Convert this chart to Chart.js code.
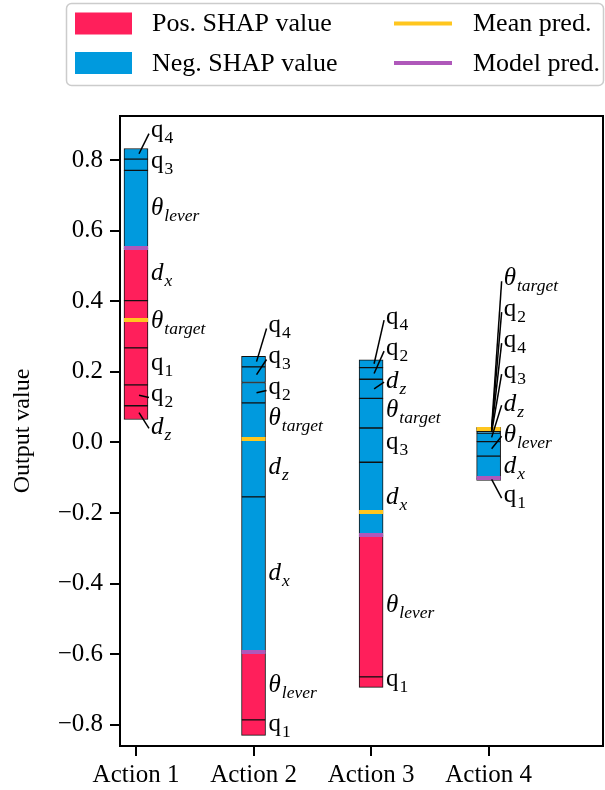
<!DOCTYPE html>
<html>
<head>
<meta charset="utf-8">
<script src="https://cdn.jsdelivr.net/npm/chart.js@4"></script>
<style>
  html, body { margin: 0; padding: 0; background: #fff; }
</style>
</head>
<body>
<canvas id="myChart" width="605" height="790"></canvas>
<script>
// Categories and tick labels
const actions = ['Action 1', 'Action 2', 'Action 3', 'Action 4'];
const yTicks = [-0.8, -0.6, -0.4, -0.2, 0.0, 0.2, 0.4, 0.6, 0.8];
const features = ['q1', 'q2', 'q3', 'q4', 'dx', 'dz', 'thetaLever', 'thetaTarget'];

// Mean prediction per action
const meanPred = [0.348, 0.009, -0.197, 0.037];

// SHAP values per feature, one entry per action
const shapQ1 = [0.105, 0.044, 0.030, 0.006];
const shapQ2 = [0.059, -0.058, -0.033, -0.004];
const shapQ3 = [-0.032, -0.044, -0.097, -0.005];
const shapQ4 = [-0.030, -0.030, -0.022, -0.0045];
const shapDx = [0.148, -0.441, -0.207, -0.063];
const shapDz = [0.039, -0.161, -0.054, -0.024];
const shapThetaLever = [-0.221, 0.191, 0.401, -0.041];
const shapThetaTarget = [0.134, -0.105, -0.084, -0.003];

const shapByFeature = {
    q1: shapQ1, q2: shapQ2, q3: shapQ3, q4: shapQ4,
    dx: shapDx, dz: shapDz, thetaLever: shapThetaLever, thetaTarget: shapThetaTarget
};

const POS_COLOR = '#FF1F5B';
const NEG_COLOR = '#009ADE';
const MEAN_COLOR = '#FFC61E';
const MODEL_COLOR = '#AF58BA';
const SERIF = '"Liberation Serif", "Times New Roman", serif';

// label text: main glyph, subscript, italic?
const labelParts = {
    q1: ['q', '1', false], q2: ['q', '2', false], q3: ['q', '3', false], q4: ['q', '4', false],
    dx: ['d', 'x', true], dz: ['d', 'z', true],
    thetaLever: ['\u03b8', 'lever', true], thetaTarget: ['\u03b8', 'target', true]
};

// Stack the segments: positives below the model prediction, negatives above,
// biggest magnitude closest to the model prediction line
function computeSegments(i) {
    const vals = features.map(f => ({ key: f, val: shapByFeature[f][i] }));
    const model = meanPred[i] + vals.reduce((s, v) => s + v.val, 0);
    const segs = {};
    let cur = model;
    vals.filter(v => v.val > 0).sort((a, b) => b.val - a.val).forEach(v => {
        segs[v.key] = { key: v.key, lo: cur - v.val, hi: cur, val: v.val };
        cur -= v.val;
    });
    cur = model;
    vals.filter(v => v.val <= 0).sort((a, b) => a.val - b.val).forEach(v => {
        segs[v.key] = { key: v.key, lo: cur, hi: cur - v.val, val: v.val };
        cur -= v.val;
    });
    return { model, segs };
}

const stacked = actions.map((a, i) => computeSegments(i));
const modelPred = stacked.map(s => s.model);

const datasets = features.map(f => ({
    label: f,
    data: actions.map((a, i) => ({ x: i, y: [stacked[i].segs[f].lo, stacked[i].segs[f].hi] })),
    backgroundColor: actions.map((a, i) => shapByFeature[f][i] > 0 ? POS_COLOR : NEG_COLOR),
    borderColor: '#111',
    borderWidth: 1,
    borderSkipped: false,
    barThickness: 24,
    grouped: false
}));

function drawLabel(ctx, key, x, y) {
    const [main, sub, italic] = labelParts[key];
    const mainFont = (italic ? 'italic ' : '') + '25px ' + SERIF;
    const subFont = (italic ? 'italic ' : '') + '17.5px ' + SERIF;
    const shift = 6;
    ctx.font = mainFont;
    const m = ctx.measureText(main);
    ctx.font = subFont;
    const s = ctx.measureText(sub);
    const top = Math.max(m.actualBoundingBoxAscent, s.actualBoundingBoxAscent - shift);
    const bottom = Math.max(m.actualBoundingBoxDescent, s.actualBoundingBoxDescent + shift);
    const base = y + (top - bottom) / 2;
    ctx.textAlign = 'left';
    ctx.textBaseline = 'alphabetic';
    ctx.fillStyle = '#000';
    ctx.font = mainFont;
    ctx.fillText(main, x, base);
    ctx.font = subFont;
    ctx.fillText(sub, x + m.width + 1, base + shift);
}

const shapPlugin = {
    id: 'shapExtras',
    afterDatasetsDraw(chart) {
        const ctx = chart.ctx;
        const xs = chart.scales.x, ys = chart.scales.y;
        const half = 12, gap = 31;
        ctx.save();
        actions.forEach((a, i) => {
            const cx = xs.getPixelForValue(i);
            // prediction lines
            [[modelPred[i], MODEL_COLOR], [meanPred[i], MEAN_COLOR]].forEach(([v, c]) => {
                const py = Math.round(ys.getPixelForValue(v));
                ctx.strokeStyle = c;
                ctx.lineWidth = 4;
                ctx.beginPath();
                ctx.moveTo(cx - half, py);
                ctx.lineTo(cx + half, py);
                ctx.stroke();
            });
            // feature labels, pushed apart from the largest segment outwards
            const items = Object.values(stacked[i].segs).map(s => ({
                key: s.key, size: s.hi - s.lo, cy: ys.getPixelForValue((s.lo + s.hi) / 2)
            }));
            items.sort((p, q) => p.cy - q.cy);
            let piv = 0;
            items.forEach((it, k) => { if (it.size > items[piv].size) piv = k; });
            items[piv].ly = items[piv].cy;
            for (let k = piv - 1; k >= 0; k--) items[k].ly = Math.min(items[k].cy, items[k + 1].ly - gap);
            for (let k = piv + 1; k < items.length; k++) items[k].ly = Math.max(items[k].cy, items[k - 1].ly + gap);
            items.forEach(it => {
                if (Math.abs(it.ly - it.cy) > 1) {
                    ctx.strokeStyle = '#000';
                    ctx.lineWidth = 1.5;
                    ctx.beginPath();
                    ctx.moveTo(cx + 3, it.cy);
                    ctx.lineTo(cx + half + 1, it.ly);
                    ctx.stroke();
                }
                drawLabel(ctx, it.key, cx + half + 3, it.ly);
            });
        });
        // axes frame
        const area = chart.chartArea;
        ctx.strokeStyle = '#000';
        ctx.lineWidth = 2;
        ctx.strokeRect(area.left, area.top, area.right - area.left, area.bottom - area.top);
        ctx.restore();
    },
    afterDraw(chart) {
        // legend box, two columns
        const ctx = chart.ctx;
        ctx.save();
        ctx.fillStyle = 'rgba(255,255,255,0.9)';
        ctx.strokeStyle = '#cccccc';
        ctx.lineWidth = 1.5;
        ctx.beginPath();
        ctx.roundRect(66.5, 3.5, 537, 82, 5);
        ctx.fill();
        ctx.stroke();
        const rows = [23.5, 63];
        ctx.font = '26px ' + SERIF;
        ctx.textBaseline = 'middle';
        ctx.textAlign = 'left';
        [[POS_COLOR, 'Pos. SHAP value'], [NEG_COLOR, 'Neg. SHAP value']].forEach(([c, t], r) => {
            ctx.fillStyle = c;
            ctx.fillRect(75, rows[r] - 11, 57, 22);
            ctx.fillStyle = '#000';
            ctx.fillText(t, 152, rows[r] + 1);
        });
        [[MEAN_COLOR, 'Mean pred.'], [MODEL_COLOR, 'Model pred.']].forEach(([c, t], r) => {
            ctx.strokeStyle = c;
            ctx.lineWidth = 4;
            ctx.beginPath();
            ctx.moveTo(394, rows[r]);
            ctx.lineTo(452, rows[r]);
            ctx.stroke();
            ctx.fillStyle = '#000';
            ctx.fillText(t, 473, rows[r] + 1);
        });
        ctx.restore();
    }
};

const myChart = new Chart(document.getElementById('myChart').getContext('2d'), {
    type: 'bar',
    data: { datasets: datasets },
    plugins: [shapPlugin],
    options: {
        responsive: false,
        animation: false,
        layout: { padding: { top: 116, right: 2, left: 0, bottom: 0 } },
        plugins: { legend: { display: false }, tooltip: { enabled: false } },
        scales: {
            x: {
                type: 'linear',
                min: -0.136,
                max: 3.973,
                offset: false,
                afterFit: s => { s.height = 44; },
                afterBuildTicks: s => { s.ticks = actions.map((a, i) => ({ value: i })); },
                grid: { offset: false, drawOnChartArea: false, drawTicks: true, tickLength: 10, lineWidth: 2, color: '#000' },
                border: { display: false },
                ticks: {
                    padding: 4,
                    color: '#000',
                    font: { family: SERIF, size: 25 },
                    callback: v => actions[v]
                }
            },
            y: {
                min: -0.86,
                max: 0.925,
                afterFit: s => { s.width = 120; },
                afterBuildTicks: s => { s.ticks = yTicks.map(v => ({ value: v })); },
                grid: { drawOnChartArea: false, drawTicks: true, tickLength: 10, lineWidth: 2, color: '#000' },
                border: { display: false },
                title: {
                    display: true,
                    text: 'Output value',
                    color: '#000',
                    font: { family: SERIF, size: 24 },
                    padding: { top: 8, bottom: 0 }
                },
                ticks: {
                    padding: 7,
                    color: '#000',
                    font: { family: SERIF, size: 25 },
                    callback: v => (v < 0 ? '\u2212' : '') + Math.abs(v).toFixed(1)
                }
            }
        }
    }
});
</script>
</body>
</html>
